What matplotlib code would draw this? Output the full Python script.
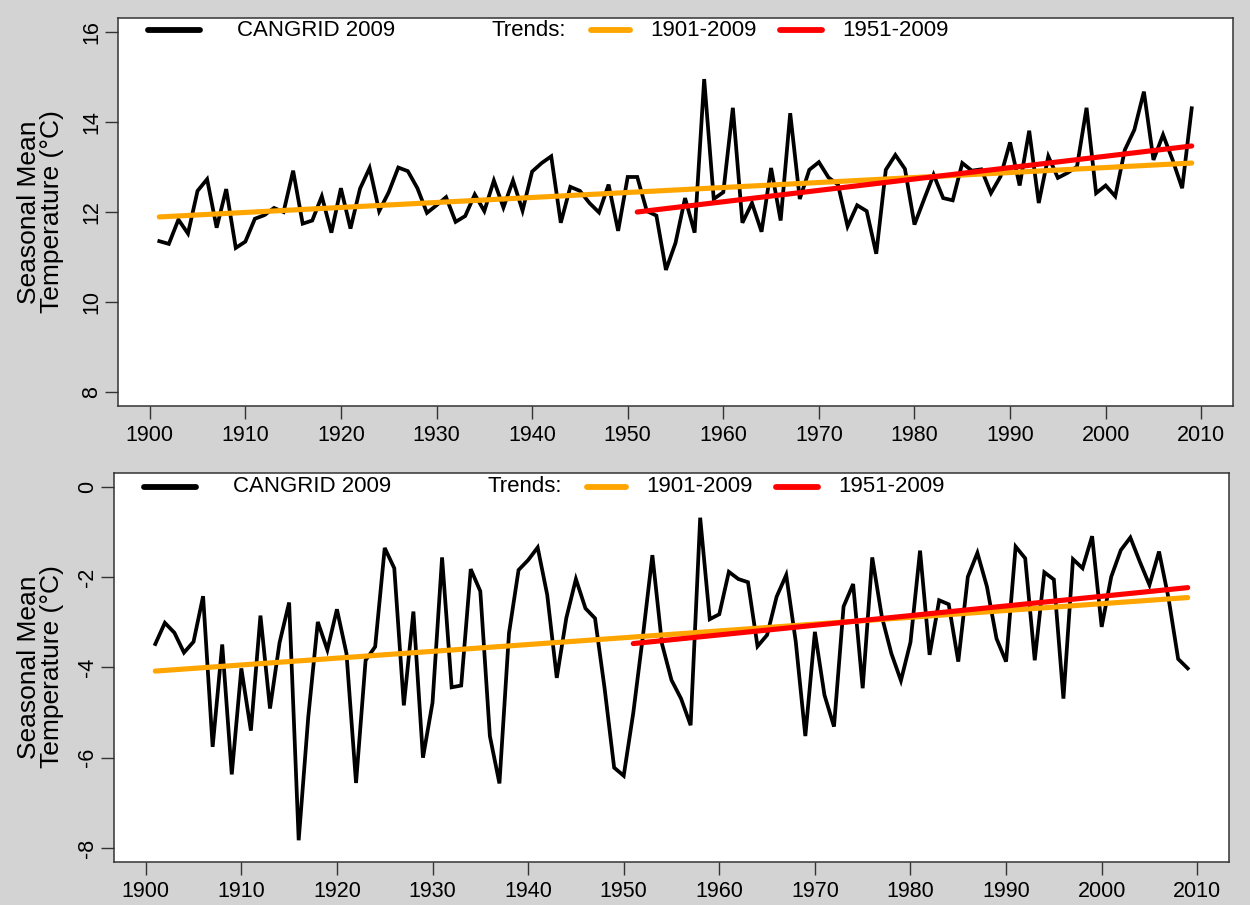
#Libs
import numpy as np
import matplotlib
matplotlib.use("Agg")
import matplotlib.pyplot as plt

plt.rcParams['font.family'] = ['Liberation Sans', 'DejaVu Sans']
plt.rcParams['axes.unicode_minus'] = False

#Data - seasonal means
years = np.arange(1901, 2010)

summer = [11.35, 11.29, 11.83, 11.52, 12.47, 12.73, 11.65, 12.51, 11.20, 11.34,
          11.85, 11.93, 12.09, 12.00, 12.92, 11.74, 11.81, 12.35, 11.54, 12.53,
          11.63, 12.52, 12.98, 12.02, 12.44, 12.99, 12.91, 12.53, 11.98, 12.15,
          12.33, 11.78, 11.91, 12.39, 12.02, 12.70, 12.10, 12.70, 12.03, 12.90,
          13.09, 13.24, 11.76, 12.56, 12.47, 12.20, 11.99, 12.61, 11.58, 12.78,
          12.78, 12.02, 11.92, 10.71, 11.31, 12.31, 11.54, 14.96, 12.29, 12.44,
          14.32, 11.76, 12.20, 11.56, 12.98, 11.81, 14.20, 12.29, 12.94, 13.11,
          12.77, 12.61, 11.68, 12.15, 12.02, 11.07, 12.94, 13.27, 12.96, 11.72,
          12.28, 12.83, 12.31, 12.26, 13.09, 12.92, 12.95, 12.42, 12.79, 13.55,
          12.59, 13.81, 12.20, 13.24, 12.76, 12.87, 13.01, 14.32, 12.42, 12.59,
          12.35, 13.38, 13.83, 14.68, 13.16, 13.72, 13.16, 12.53, 14.31]

winter = [-3.48, -3.01, -3.23, -3.67, -3.43, -2.42, -5.76, -3.49, -6.37, -4.02,
          -5.40, -2.85, -4.91, -3.45, -2.56, -7.83, -5.10, -2.99, -3.61, -2.71,
          -3.69, -6.56, -3.84, -3.54, -1.35, -1.80, -4.84, -2.76, -6.00, -4.78,
          -1.56, -4.44, -4.40, -1.82, -2.31, -5.52, -6.57, -3.24, -1.84, -1.62,
          -1.34, -2.39, -4.23, -2.90, -2.04, -2.69, -2.91, -4.46, -6.22, -6.40,
          -5.01, -3.32, -1.51, -3.47, -4.28, -4.69, -5.28, -0.68, -2.93, -2.82,
          -1.88, -2.04, -2.11, -3.53, -3.28, -2.43, -1.95, -3.43, -5.52, -3.21,
          -4.61, -5.31, -2.65, -2.15, -4.46, -1.56, -2.87, -3.69, -4.29, -3.44,
          -1.41, -3.72, -2.51, -2.60, -3.87, -1.99, -1.46, -2.21, -3.36, -3.87,
          -1.32, -1.58, -3.84, -1.89, -2.05, -4.69, -1.60, -1.80, -1.09, -3.10,
          -1.99, -1.40, -1.12, -1.66, -2.17, -1.43, -2.47, -3.81, -4.02]

#Trend line end points (start year, end year) and values
trend_long_years = [1901, 2009]
trend_short_years = [1951, 2009]
summer_long = [11.89, 13.09]
summer_short = [12.00, 13.47]
winter_long = [-4.08, -2.45]
winter_short = [-3.47, -2.23]

summer_ticks = [8, 10, 12, 14, 16]
winter_ticks = [0, -2, -4, -6, -8]
year_ticks = [1900, 1910, 1920, 1930, 1940, 1950, 1960, 1970, 1980, 1990, 2000, 2010]

ylabel = "Seasonal Mean\nTemperature (\u00b0C)"
bg = "#d3d3d3"

fig = plt.figure(figsize=(12.5, 9.05), dpi=100, facecolor=bg)
ax1 = fig.add_axes([0.0944, 0.5514, 0.892, 0.4287])
ax2 = fig.add_axes([0.0912, 0.0471, 0.892, 0.4307])

#R style x range: data range + 4%
pad = (years[-1] - years[0]) * 0.04
panels = [(ax1, summer, summer_long, summer_short, (8, 16), summer_ticks, 0.969, 0.7657),
          (ax2, winter, winter_long, winter_short, (-8, 0), winter_ticks, 0.964, 0.263)]

for ax, vals, tl, ts, ylim, yt, leg_y, lab_y in panels:
    ax.set_facecolor("white")
    ax.plot(years, vals, color="black", lw=2.7, solid_joinstyle="miter")
    ax.plot(trend_long_years, tl, color="#FFA500", lw=3.7, solid_capstyle="round")
    ax.plot(trend_short_years, ts, color="#FF0000", lw=3.7, solid_capstyle="round")

    ax.set_xlim(years[0] - pad, years[-1] + pad)
    yp = (ylim[1] - ylim[0]) * 0.04
    ax.set_ylim(ylim[0] - yp, ylim[1] + yp)
    ax.set_xticks(year_ticks)
    ax.set_yticks(yt)
    ax.tick_params(axis="both", direction="out", length=9.5, width=1.0,
                   labelsize=15.5, color="#333333")
    ax.tick_params(axis="x", pad=4)
    ax.tick_params(axis="y", pad=2)
    for lab in ax.get_yticklabels():
        lab.set_rotation(90)
        lab.set_verticalalignment("center")
    for sp in ax.spines.values():
        sp.set_linewidth(1.1)
        sp.set_color("#333333")

    #Legend drawn by hand in axes fraction
    ax.plot([0.027, 0.0735], [leg_y, leg_y], transform=ax.transAxes,
            color="black", lw=4.2, solid_capstyle="round", clip_on=False)
    ax.text(0.1067, leg_y, "CANGRID 2009", transform=ax.transAxes,
            fontsize=16, va="center", ha="left")
    ax.text(0.3354, leg_y, "Trends:", transform=ax.transAxes,
            fontsize=16, va="center", ha="left")
    ax.plot([0.4242, 0.4592], [leg_y, leg_y], transform=ax.transAxes,
            color="#FFA500", lw=4.2, solid_capstyle="round", clip_on=False)
    ax.text(0.4771, leg_y, "1901-2009", transform=ax.transAxes,
            fontsize=16, va="center", ha="left")
    ax.plot([0.5937, 0.6314], [leg_y, leg_y], transform=ax.transAxes,
            color="#FF0000", lw=4.2, solid_capstyle="round", clip_on=False)
    ax.text(0.6493, leg_y, "1951-2009", transform=ax.transAxes,
            fontsize=16, va="center", ha="left")

    fig.text(0.0325, lab_y, ylabel, rotation=90, ha="center", va="center",
             fontsize=19, linespacing=0.95)

fig.savefig("out.png", dpi=100, facecolor=bg)
